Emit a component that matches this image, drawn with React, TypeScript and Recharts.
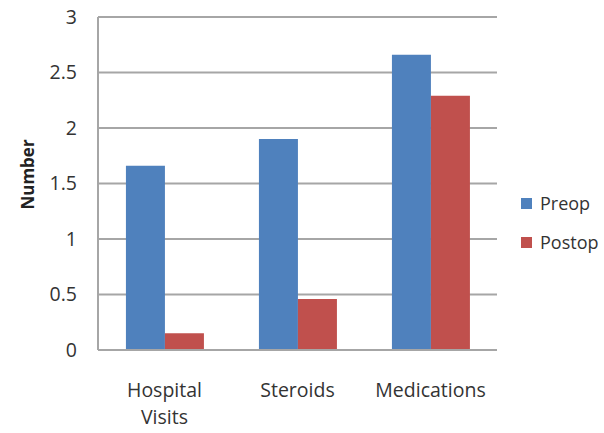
import React from "react";
import { BarChart, Bar, XAxis, YAxis, CartesianGrid, Label } from "recharts";

const categories = ["Hospital Visits", "Steroids", "Medications"];
const preop = [1.66, 1.9, 2.66];
const postop = [0.15, 0.46, 2.29];
const yTicks = [0, 0.5, 1, 1.5, 2, 2.5, 3];

const data = categories.map((c, i) => ({ name: c, Preop: preop[i], Postop: postop[i] }));

const FONT = "'Open Sans', sans-serif";

const XTick = (props: any) => {
  const { x, y, payload } = props;
  const lines = String(payload.value).split(" ");
  return (
    <text x={x} y={y + 39} textAnchor="middle" fontSize={19.5} fontFamily={FONT} fill="#333">
      {lines.map((l, i) => (
        <tspan key={i} x={x} dy={i === 0 ? 0 : 27}>
          {l}
        </tspan>
      ))}
    </text>
  );
};

const YLabel = (props: any) => {
  const vb = props.viewBox || {};
  const cx = (vb.x || 0) + 27;
  const cy = (vb.y || 0) + (vb.height || 0) / 2 - 9;
  return (
    <text
      x={cx}
      y={cy}
      transform={`rotate(-90, ${cx}, ${cy})`}
      textAnchor="middle"
      dominantBaseline="central"
      fontSize={17}
      fontWeight="bold"
      fontFamily={FONT}
      fill="#222"
    >
      Number
    </text>
  );
};

export default function App() {
  return (
    <div style={{ position: "absolute", left: 0, top: 0, width: 604, height: 433, background: "#fff" }}>
      <BarChart
        width={604}
        height={433}
        data={data}
        margin={{ top: 17, right: 107, bottom: 0, left: 0 }}
        barCategoryGap="21%"
        barGap={0}
      >
        <CartesianGrid vertical={false} stroke="#a6a6a6" strokeWidth={2} />
        <XAxis
          dataKey="name"
          stroke="#a6a6a6"
          strokeWidth={2}
          tickLine={false}
          tick={<XTick />}
          interval={0}
          height={83}
        />
        <YAxis
          domain={[0, 3]}
          ticks={yTicks}
          stroke="#a6a6a6"
          strokeWidth={2}
          tickLine={false}
          tickSize={0}
          tickMargin={21}
          width={98}
          tick={{ fontSize: 19.5, fontFamily: FONT, fill: "#333" }}
        >
          <Label content={<YLabel />} />
        </YAxis>
        <Bar dataKey="Preop" fill="#4F81BD" isAnimationActive={false} />
        <Bar dataKey="Postop" fill="#C0504D" isAnimationActive={false} />
      </BarChart>
      <div style={{ position: "absolute", left: 521, top: 192, fontFamily: FONT, fontSize: 18, color: "#333" }}>
        {[{ n: "Preop", c: "#4F81BD" }, { n: "Postop", c: "#C0504D" }].map((e) => (
          <div key={e.n} style={{ display: "flex", alignItems: "center", height: 22, marginBottom: 17 }}>
            <span style={{ display: "inline-block", width: 11, height: 11, background: e.c, marginRight: 8 }} />
            <span>{e.n}</span>
          </div>
        ))}
      </div>
    </div>
  );
}
